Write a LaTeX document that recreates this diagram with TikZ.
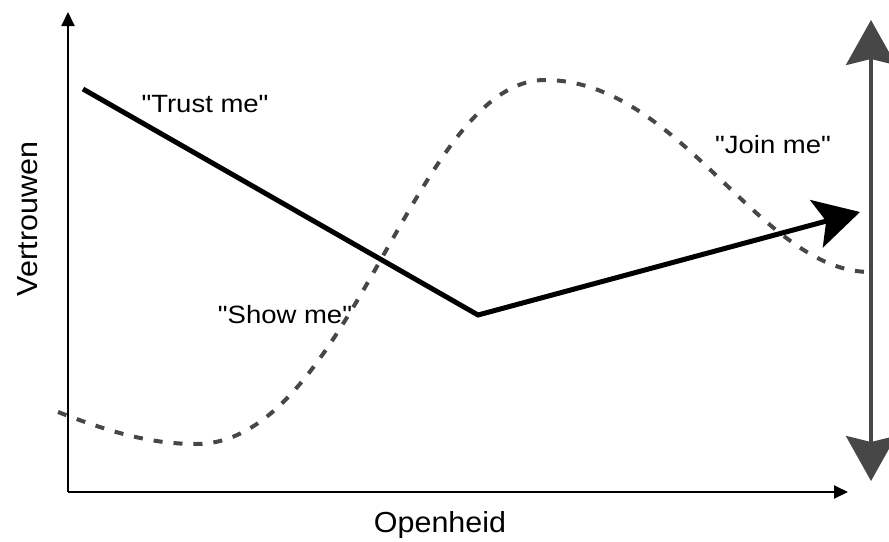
\documentclass[tikz,border=0pt]{standalone}
\usepackage{fontspec}
\setmainfont{Liberation Sans}[Ligatures=TeXOff]
\usetikzlibrary{arrows.meta}
\definecolor{dgray}{gray}{0.28}
\tikzset{
  myaxis/.style={line width=2pt, -{Triangle[length=14pt,width=13pt]}},
  mycurve/.style={line width=5pt, line join=miter, -{Stealth[length=45pt,width=49pt,inset=10pt]}},
  mywave/.style={dgray, line width=4pt, dash pattern=on 9pt off 11pt},
  spanarrow/.style={dgray, line width=3.5pt, {Stealth[length=45pt,width=50pt,inset=6pt]}-{Stealth[length=45pt,width=50pt,inset=6pt]}},
  lab/.style={font=\fontsize{25}{28}\selectfont, anchor=base, inner sep=0pt},
  axlab/.style={font=\fontsize{29}{32}\selectfont, anchor=base, inner sep=0pt}
}
\begin{document}
\begin{tikzpicture}[x=1pt,y=-1pt]
\useasboundingbox (0,0) rectangle (889,541);
% axes
\coordinate (O) at (68,492);
\coordinate (ytop) at (68,12);
\coordinate (xend) at (848,492);
\draw[myaxis] (O) -- (ytop);
\draw[myaxis] (O) -- (xend);
% dashed wave
\coordinate (w0) at (58,412);
\coordinate (wmin) at (196,444);
\coordinate (wmax) at (545,80);
\coordinate (wend) at (870,272);
\draw[mywave] (w0) .. controls (110,432) and (150,444) .. (wmin)
  .. controls (350,444) and (415,80) .. (wmax)
  .. controls (680,80) and (760,272) .. (wend);
% range arrow
\coordinate (rtop) at (871,20);
\coordinate (rbot) at (871,481);
\draw[spanarrow] (rbot) -- (rtop);
% solid line
\coordinate (s0) at (83,89);
\coordinate (s1) at (478,315);
\coordinate (s2) at (860,212);
\draw[mycurve] (s0) -- (s1) -- (s2);
% labels
\node[lab] (trust) at (205,112) {\scalebox{1.1}[1]{"Trust me"}};
\node[lab] (show) at (285,323) {\scalebox{1.1}[1]{"Show me"}};
\node[lab] (join) at (773,153) {\scalebox{1.1}[1]{"Join me"}};
\node[axlab] (xl) at (440,532) {\scalebox{1.05}[1]{Openheid}};
\node[axlab, rotate=90] (yl) at (37,219) {\scalebox{1.05}[1]{Vertrouwen}};
\end{tikzpicture}
\end{document}
